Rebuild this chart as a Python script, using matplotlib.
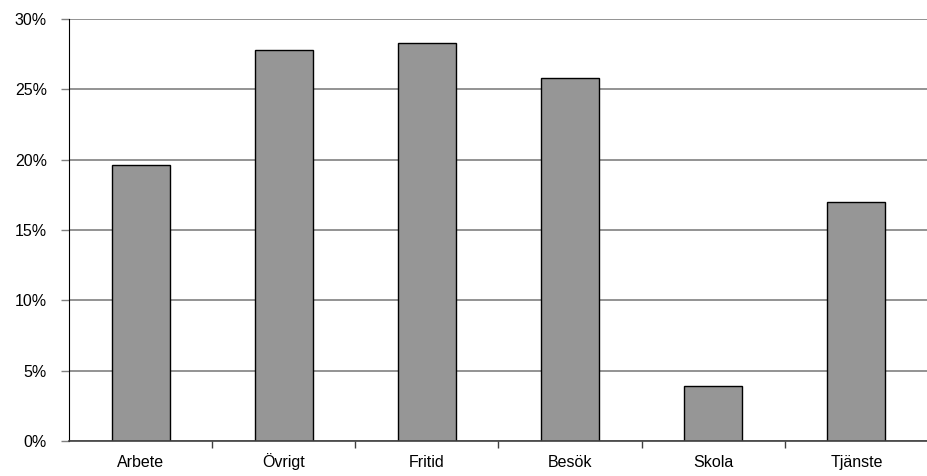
import matplotlib
matplotlib.use("Agg")
import matplotlib.pyplot as plt
from matplotlib.ticker import MultipleLocator, FuncFormatter

plt.rcParams['font.family'] = ['Liberation Sans', 'DejaVu Sans']

categories = ["Arbete", "Övrigt", "Fritid", "Besök", "Skola", "Tjänste"]
shares = [19.6, 27.8, 28.3, 25.8, 3.9, 17.0]

fig = plt.figure(figsize=(9.28, 4.76), dpi=100)
ax = fig.add_axes([69 / 928, 35 / 476, 859 / 928, 422 / 476])

positions = list(range(len(categories)))
ax.bar(positions, shares, width=0.405, color="#969696", edgecolor="black",
       linewidth=1.0, zorder=3)

ax.set_xlim(-0.5, len(categories) - 0.5)
ax.set_ylim(0, 30)
ax.yaxis.set_major_locator(MultipleLocator(5))
ax.yaxis.set_major_formatter(FuncFormatter(lambda v, p: "%d%%" % v))
ax.grid(axis="y", color="#808080", linewidth=1.2, zorder=0)

# category labels in the middle, tick marks on the boundaries
ax.set_xticks(positions)
ax.set_xticklabels(categories, fontsize=11.5)
ax.tick_params(axis="x", which="major", length=0, pad=19)
for lab in ax.get_xticklabels():
    lab.set_verticalalignment("baseline")
ax.set_xticks([p + 0.5 for p in positions[:-1]], minor=True)
ax.tick_params(axis="x", which="minor", length=5, color="#404040", width=1)

ax.tick_params(axis="y", length=6, color="#808080", width=1, labelsize=11.5, pad=10)

for side in ["top", "right"]:
    ax.spines[side].set_visible(False)
ax.spines["left"].set_color("black")
ax.spines["bottom"].set_color("#404040")
ax.spines["bottom"].set_linewidth(1.2)
ax.spines["bottom"].set_zorder(4)

fig.savefig("out.png", dpi=100)
